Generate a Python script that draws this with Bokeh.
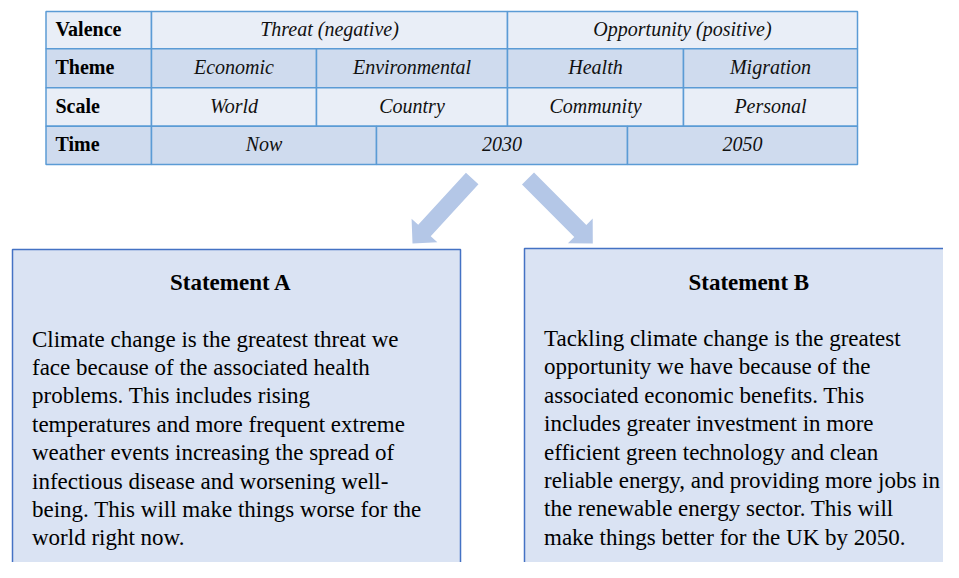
from bokeh.plotting import figure
from bokeh.models import Range1d
from bokeh.core.properties import value
from bokeh.embed import file_html
from bokeh.resources import INLINE
import math

# ---------------- data ----------------
row_labels = ["Valence", "Theme", "Scale", "Time"]
valence_cells = ["Threat (negative)", "Opportunity (positive)"]
theme_cells = ["Economic", "Environmental", "Health", "Migration"]
scale_cells = ["World", "Country", "Community", "Personal"]
time_cells = ["Now", "2030", "2050"]

title_a = "Statement A"
title_b = "Statement B"
lines_a = [
    "Climate change is the greatest threat we",
    "face because of the associated health",
    "problems. This includes rising",
    "temperatures and more frequent extreme",
    "weather events increasing the spread of",
    "infectious disease and worsening well-",
    "being. This will make things worse for the",
    "world right now.",
]
lines_b = [
    "Tackling climate change is the greatest",
    "opportunity we have because of the",
    "associated economic benefits. This",
    "includes greater investment in more",
    "efficient green technology and clean",
    "reliable energy, and providing more jobs in",
    "the renewable energy sector. This will",
    "make things better for the UK by 2050.",
]

# ---------------- layout (picture-pixel coordinates) ----------------
W, H = 943, 562
FONT = value("Liberation Serif")

tab_left, tab_right = 45.5, 857
label_right = 151
row_edges = [11, 48.3, 87.3, 125.7, 164]
col_edges = [
    [label_right, 507, tab_right],
    [label_right, 316, 507, 683, tab_right],
    [label_right, 316, 507, 683, tab_right],
    [label_right, 376, 627, tab_right],
]
row_cells = [valence_cells, theme_cells, scale_cells, time_cells]
row_fill = ["#E9EEF7", "#CFDBEE", "#E9EEF7", "#CFDBEE"]
grid_color = "#5B9BD5"

p = figure(width=W, height=H, output_backend="svg", toolbar_location=None,
           x_range=Range1d(0, W), y_range=Range1d(H, 0),
           min_border=0)
p.axis.visible = False
p.grid.visible = False
p.outline_line_color = None
p.background_fill_color = "white"
p.border_fill_color = "white"

# table cells
qx0, qx1, qy0, qy1, qfill = [], [], [], [], []
tx, ty, tt = [], [], []
lx, ly = [], []
for r, (label, cells) in enumerate(zip(row_labels, row_cells)):
    y0, y1 = row_edges[r], row_edges[r + 1]
    edges = col_edges[r]
    qx0.append(tab_left); qx1.append(edges[0]); qy0.append(y0); qy1.append(y1); qfill.append(row_fill[r])
    lx.append(tab_left + 9.5); ly.append((y0 + y1) / 2 - 1.2)
    for c, txt in enumerate(cells):
        a, b = edges[c], edges[c + 1]
        qx0.append(a); qx1.append(b); qy0.append(y0); qy1.append(y1); qfill.append(row_fill[r])
        tx.append((a + b) / 2); ty.append((y0 + y1) / 2 - 1.2); tt.append(txt)

p.quad(left=qx0, right=qx1, top=qy0, bottom=qy1, fill_color=qfill,
       line_color=grid_color, line_width=1.5)
p.text(x=lx, y=ly, text=row_labels, text_font=FONT, text_font_size=value("20px"),
       text_font_style="bold", text_align="left", text_baseline="middle", text_color="black")
p.text(x=tx, y=ty, text=tt, text_font=FONT, text_font_size=value("20px"),
       text_font_style="italic", text_align="center", text_baseline="middle", text_color="#111111")

# arrows
def arrow(tail, tip, w=17, hw=35, hl=17.7):
    dx, dy = tip[0] - tail[0], tip[1] - tail[1]
    L = math.hypot(dx, dy)
    ux, uy = dx / L, dy / L
    nx, ny = -uy, ux
    bx, by = tip[0] - hl * ux, tip[1] - hl * uy
    pts = [
        (tail[0] + nx * w / 2, tail[1] + ny * w / 2),
        (bx + nx * w / 2, by + ny * w / 2),
        (bx + nx * hw / 2, by + ny * hw / 2),
        tip,
        (bx - nx * hw / 2, by - ny * hw / 2),
        (bx - nx * w / 2, by - ny * w / 2),
        (tail[0] - nx * w / 2, tail[1] - ny * w / 2),
    ]
    return [q[0] for q in pts], [q[1] for q in pts]

axs, ays = [], []
for tail, tip in [((471.7, 178), (412, 243)), ((527.5, 178), (592.3, 243))]:
    xs, ys = arrow(tail, tip)
    axs.append(xs); ays.append(ys)
p.patches(xs=axs, ys=ays, fill_color="#B4C7E7", line_color=None)

# statement boxes
p.quad(left=[12, 524], right=[460, 990], top=[249, 248], bottom=[620, 620],
       fill_color="#DAE3F3", line_color="#4472C4", line_width=1.5)

p.text(x=[230.5, 748.3], y=[282, 282], text=[title_a, title_b], text_font=FONT,
       text_font_size=value("23px"), text_font_style="bold", text_align="center",
       text_baseline="middle", text_color="black")

gap = 28.4
bx_all, by_all, bt_all = [], [], []
for x0, y0, lines in [(31.5, 338.5, lines_a), (543.5, 338.0, lines_b)]:
    for i, ln in enumerate(lines):
        bx_all.append(x0); by_all.append(y0 + i * gap); bt_all.append(ln)
p.text(x=bx_all, y=by_all, text=bt_all, text_font=FONT, text_font_size=value("23px"),
       text_align="left", text_baseline="middle", text_color="black")

open("out.html", "w").write(file_html(p, INLINE))
